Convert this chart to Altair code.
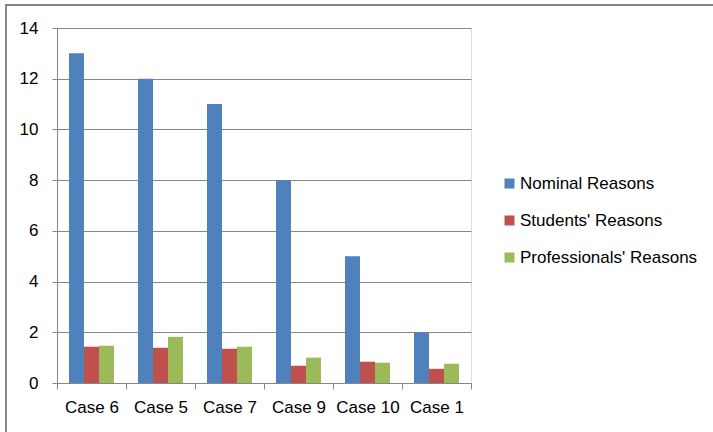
import altair as alt
import pandas as pd

categories = ["Case 6", "Case 5", "Case 7", "Case 9", "Case 10", "Case 1"]
series = ["Nominal Reasons", "Students' Reasons", "Professionals' Reasons"]
nominal = [13, 12, 11, 8, 5, 2]
students = [1.43, 1.39, 1.35, 0.68, 0.84, 0.56]
professionals = [1.47, 1.82, 1.43, 1.0, 0.8, 0.76]
colors = ["#4F81BD", "#C0504D", "#9BBB59"]
y_ticks = [0, 2, 4, 6, 8, 10, 12, 14]

rows = []
for s, vals in zip(series, [nominal, students, professionals]):
    for c, v in zip(categories, vals):
        rows.append({"Category": c, "Series": s, "Value": v})
df = pd.DataFrame(rows)

FONT = "Liberation Sans"
GRID = "#868686"

bars = alt.Chart(df).mark_bar().encode(
    x=alt.X("Category:N", sort=categories, title=None,
            scale=alt.Scale(paddingInner=0, paddingOuter=0),
            axis=alt.Axis(labelAngle=0, tickBand="extent", tickSize=6, tickColor=GRID,
                          domainColor=GRID, labelFont=FONT, labelFontSize=17,
                          labelColor="#000000", labelPadding=10, grid=False)),
    xOffset=alt.XOffset("Series:N", sort=series,
                        scale=alt.Scale(paddingOuter=0.8, paddingInner=0)),
    y=alt.Y("Value:Q", title=None,
            scale=alt.Scale(domain=[0, 14], nice=False),
            axis=alt.Axis(values=y_ticks, tickSize=5, tickColor=GRID, domainColor=GRID,
                          gridColor=GRID, gridWidth=1, labelFont=FONT, labelFontSize=17,
                          labelColor="#000000", labelPadding=14)),
    color=alt.Color("Series:N", sort=series,
                    scale=alt.Scale(domain=series, range=colors),
                    legend=alt.Legend(title=None, orient="none", legendX=444, legendY=147,
                                      symbolType="square", symbolSize=100,
                                      symbolStrokeWidth=0, labelFont=FONT,
                                      labelFontSize=17, labelColor="#000000",
                                      labelLimit=400,
                                      rowPadding=19, labelOffset=2, padding=0)),
)

border_top = alt.Chart(df).mark_rule(color=GRID, strokeWidth=2).encode(
    x=alt.value(-52), x2=alt.value(660), y=alt.value(-23))
border_left = alt.Chart(df).mark_rule(color=GRID, strokeWidth=2).encode(
    x=alt.value(-51), y=alt.value(-23), y2=alt.value(410))

chart = alt.layer(bars, border_top, border_left).properties(
    width=414, height=355,
    autosize=alt.AutoSizeParams(type="none"),
    padding={"left": 57, "top": 28, "right": 242, "bottom": 49},
).configure_view(stroke=None).configure(background="white")

chart.save("out.html", embed_options={"renderer": "svg", "actions": False})
